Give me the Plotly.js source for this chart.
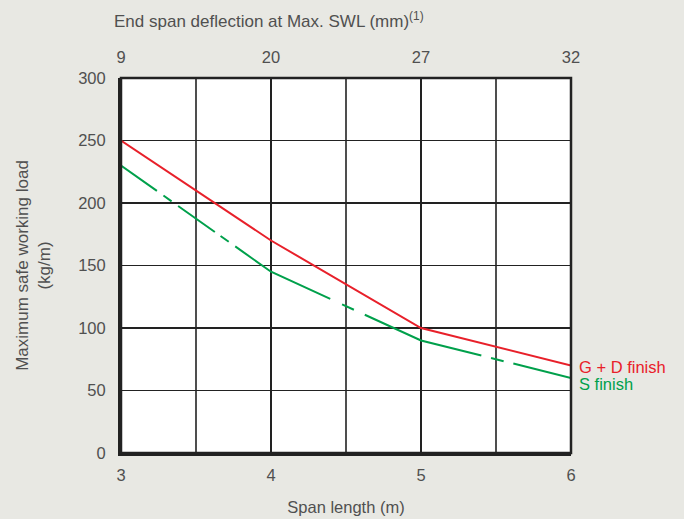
<!DOCTYPE html>
<html>
<head>
<meta charset="utf-8">
<script src="https://cdn.plot.ly/plotly-3.0.1.min.js"></script>
<style>html,body{margin:0;padding:0;background:#e8e8e3;}#chart{width:684px;height:519px;}</style>
</head>
<body>
<div id="chart"></div>
<script>
// Data
var spanLength = [3, 4, 5, 6];
var gdFinish = [250, 170, 100, 70];
var sFinish = [230, 145, 90, 60];
var deflectionTicks = ['9', '20', '27', '32'];
var seriesNames = ['G + D finish', 'S finish'];

var red = '#e8202a';
var green = '#00a04b';
var grey = '#505050';
var font = 'Liberation Sans, Arial, sans-serif';
var fs = 16.5;

var traces = [
  {x: spanLength, y: gdFinish, mode: 'lines', line: {color: red, width: 2}, name: seriesNames[0], hoverinfo: 'skip'},
  {x: spanLength, y: sFinish, mode: 'lines', line: {color: green, width: 2,
    dash: '44px,8px,10px,8px,45px,7px,10px,8px,109px,13px,13px,12px,124px,10px,13px,10px,70px,1px'},
    name: seriesNames[1], hoverinfo: 'skip'},
  {x: spanLength, y: gdFinish, xaxis: 'x2', mode: 'lines', line: {width: 0}, opacity: 0, showlegend: false, hoverinfo: 'skip'}
];

var layout = {
  width: 684, height: 519,
  margin: {l: 121, r: 113, t: 78, b: 66},
  paper_bgcolor: '#e8e8e3',
  plot_bgcolor: '#ffffff',
  showlegend: false,
  font: {family: font, size: fs, color: grey},
  xaxis: {
    range: [3, 6], tickvals: spanLength, ticktext: spanLength.map(String),
    showgrid: true, gridcolor: '#222', gridwidth: 1.6,
    zeroline: false, showline: true, linecolor: '#222', linewidth: 3, mirror: false,
    ticks: 'outside', ticklen: 5, tickcolor: 'rgba(0,0,0,0)',
    tickfont: {size: fs, color: grey},
    title: {text: 'Span length (m)', font: {size: fs, color: grey}, standoff: 19}
  },
  xaxis2: {
    range: [3, 6], overlaying: 'x', side: 'top', anchor: 'y',
    tickvals: spanLength, ticktext: deflectionTicks,
    showgrid: false, zeroline: false, showline: false,
    ticks: 'outside', ticklen: 7, tickcolor: 'rgba(0,0,0,0)',
    tickfont: {size: fs, color: grey}
  },
  yaxis: {
    range: [0, 300], dtick: 50, tick0: 0,
    showgrid: true, gridcolor: '#222', gridwidth: 1.6,
    zeroline: false, showline: true, linecolor: '#222', linewidth: 3,
    ticks: 'outside', ticklen: 9, tickcolor: 'rgba(0,0,0,0)',
    tickfont: {size: fs, color: grey},
    title: {text: 'Maximum safe working load<br>(kg/m)', font: {size: 17, color: grey}, standoff: 24}
  },
  shapes: [
    {type: 'line', xref: 'x', yref: 'paper', x0: 3.5, x1: 3.5, y0: 0, y1: 1, line: {color: '#222', width: 1.6}, layer: 'below'},
    {type: 'line', xref: 'x', yref: 'paper', x0: 4.5, x1: 4.5, y0: 0, y1: 1, line: {color: '#222', width: 1.6}, layer: 'below'},
    {type: 'line', xref: 'x', yref: 'paper', x0: 5.5, x1: 5.5, y0: 0, y1: 1, line: {color: '#222', width: 1.6}, layer: 'below'},
    {type: 'rect', xref: 'paper', yref: 'paper', x0: 0, x1: 1, y0: 0, y1: 1, line: {color: '#222', width: 2.5}}
  ],
  annotations: [
    {xref: 'paper', yref: 'paper', x: -0.02, y: 1, yshift: 58, xanchor: 'left', yanchor: 'middle', showarrow: false,
      text: 'End span deflection at Max. SWL (mm)<sup style="font-size:9px">(1)</sup>', font: {size: 17, color: grey}},
    {xref: 'x', yref: 'y', x: spanLength[3], y: gdFinish[3], xanchor: 'left', yanchor: 'middle', xshift: 6, yshift: -1, showarrow: false,
      text: seriesNames[0], font: {size: 16.5, color: red}},
    {xref: 'x', yref: 'y', x: spanLength[3], y: sFinish[3], xanchor: 'left', yanchor: 'middle', xshift: 6, yshift: -6, showarrow: false,
      text: seriesNames[1], font: {size: 16.5, color: green}}
  ]
};

Plotly.newPlot('chart', traces, layout, {displayModeBar: false, staticPlot: true});
</script>
</body>
</html>
